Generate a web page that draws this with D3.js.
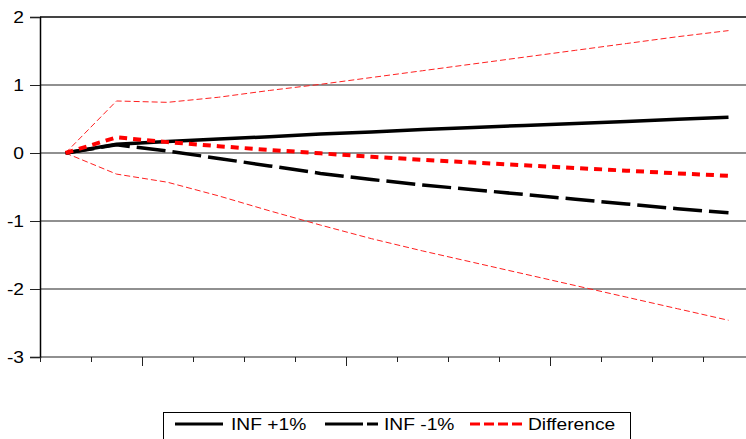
<!DOCTYPE html>
<html>
<head>
<meta charset="utf-8">
<script src="https://cdn.jsdelivr.net/npm/d3@7"></script>
<style>
  body { margin: 0; background: #fff; }
  svg { display: block; font-family: "Liberation Sans", Arial, sans-serif; }
</style>
</head>
<body>
<svg id="chart"></svg>
<script>
// periods 1..14
const periods = [1, 2, 3, 4, 5, 6, 7, 8, 9, 10, 11, 12, 13, 14];
const infPlus = [0, 0.13, 0.17, 0.205, 0.24, 0.28, 0.31, 0.345, 0.375, 0.405, 0.435, 0.465, 0.495, 0.525];
const infMinus = [0, 0.12, 0.03, -0.08, -0.19, -0.30, -0.39, -0.47, -0.54, -0.61, -0.68, -0.75, -0.82, -0.88];
const difference = [0, 0.23, 0.16, 0.10, 0.045, -0.005, -0.055, -0.10, -0.14, -0.18, -0.22, -0.26, -0.30, -0.335];
const upperBand = [0, 0.765, 0.745, 0.82, 0.92, 1.01, 1.11, 1.21, 1.31, 1.41, 1.51, 1.61, 1.71, 1.80];
const lowerBand = [0, -0.31, -0.43, -0.63, -0.85, -1.06, -1.26, -1.44, -1.61, -1.78, -1.95, -2.12, -2.29, -2.46];
const yTicks = [-3, -2, -1, 0, 1, 2];
const legendLabels = ["INF +1%", "INF -1%", "Difference"];

const width = 746, height = 439;
const stretch = 1.2; // text in the original is widened horizontally
const svg = d3.select("#chart").attr("width", width).attr("height", height);

const x = d3.scaleLinear().domain([0.5, 14.5]).range([40, 754]);
const y = d3.scaleLinear().domain([-3, 2]).range([357, 17]);

function widen(sel) {
    sel.each(function() {
        const w = this.getComputedTextLength();
        d3.select(this).attr("textLength", w * stretch).attr("lengthAdjust", "spacingAndGlyphs");
    });
}

// horizontal grid lines
svg.append("g")
    .selectAll("line")
    .data(yTicks)
    .enter().append("line")
    .attr("x1", 40).attr("x2", width)
    .attr("y1", d => y(d)).attr("y2", d => y(d))
    .style("stroke", d => d === 2 ? "#444" : "#222")
    .style("stroke-width", d => d === 2 ? 2 : 1.2);

// y axis
const yAxis = svg.append("g")
    .attr("transform", "translate(40,0)")
    .call(d3.axisLeft(y).tickValues(yTicks).tickSize(10).tickPadding(6).tickFormat(d => String(d)));
yAxis.select(".domain").style("stroke", "#000").style("stroke-width", 1.5);
yAxis.selectAll(".tick line").style("stroke", "#222");
yAxis.selectAll("text")
    .attr("dy", "0.36em")
    .style("font-size", "16px").style("fill", "#000")
    .style("font-family", "'Liberation Sans', Arial, sans-serif")
    .call(widen);

// x axis ticks (band edges), no labels
const edges = d3.range(0, 15).map(k => k + 0.5);
const minor = edges.filter((d, k) => k % 4 !== 2);
const major = edges.filter((d, k) => k % 4 === 2);
const xMinor = svg.append("g")
    .attr("transform", `translate(0,${y(-3)})`)
    .call(d3.axisBottom(x).tickValues(minor).tickSize(5).tickFormat(""));
xMinor.select(".domain").remove();
xMinor.selectAll(".tick line").style("stroke", "#222");
const xMajor = svg.append("g")
    .attr("transform", `translate(0,${y(-3)})`)
    .call(d3.axisBottom(x).tickValues(major).tickSize(9).tickFormat(""));
xMajor.select(".domain").remove();
xMajor.selectAll(".tick line").style("stroke", "#222");

const line = d3.line()
    .x((d, i) => x(periods[i]))
    .y(d => y(d));

// confidence bands
[upperBand, lowerBand].forEach(band => {
    svg.append("path")
        .datum(band)
        .attr("d", line)
        .style("fill", "none")
        .style("stroke", "#ff2020")
        .style("stroke-width", 1)
        .style("stroke-dasharray", "6,3");
});

svg.append("path")
    .datum(infMinus)
    .attr("d", line)
    .style("fill", "none")
    .style("stroke", "#000")
    .style("stroke-width", 3.5)
    .style("stroke-dasharray", "29,7");

svg.append("path")
    .datum(infPlus)
    .attr("d", line)
    .style("fill", "none")
    .style("stroke", "#000")
    .style("stroke-width", 3.5);

svg.append("path")
    .datum(difference)
    .attr("d", line)
    .style("fill", "none")
    .style("stroke", "#ff0000")
    .style("stroke-width", 4)
    .style("stroke-dasharray", "8,6");

// legend
const legend = svg.append("g");
legend.append("rect")
    .attr("x", 163.5).attr("y", 412.5)
    .attr("width", 467).attr("height", 40)
    .style("fill", "#fff").style("stroke", "#000").style("stroke-width", 1);

const legendItems = [
    { label: legendLabels[0], x1: 175, x2: 223, tx: 231, color: "#000", dash: null },
    { label: legendLabels[1], x1: 325, x2: 378, tx: 384, color: "#000", dash: "38,4" },
    { label: legendLabels[2], x1: 470, x2: 522, tx: 528, color: "#ff0000", dash: "10,4" }
];
const li = legend.selectAll(".item").data(legendItems).enter().append("g").attr("class", "item");
li.append("line")
    .attr("x1", d => d.x1).attr("x2", d => d.x2)
    .attr("y1", 424).attr("y2", 424)
    .style("stroke", d => d.color)
    .style("stroke-width", 3)
    .style("stroke-dasharray", d => d.dash);
li.append("text")
    .attr("x", d => d.tx).attr("y", 430)
    .style("font-size", "16px")
    .style("fill", "#000")
    .text(d => d.label)
    .call(widen);
</script>
</body>
</html>
